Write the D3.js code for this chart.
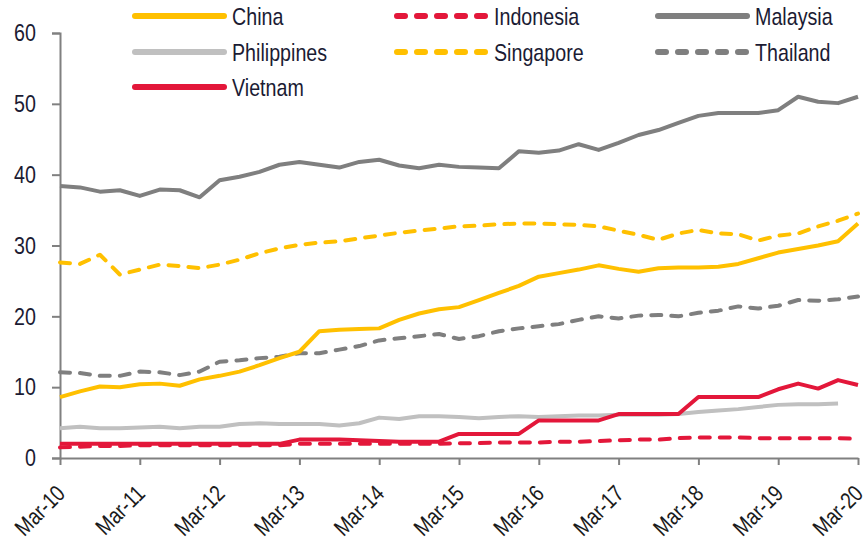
<!DOCTYPE html>
<html>
<head>
<meta charset="utf-8">
<script src="https://cdn.jsdelivr.net/npm/d3@7"></script>
<style>
  body { margin: 0; background: #fff; }
  text { font-family: "Liberation Sans", Arial, sans-serif; }
</style>
</head>
<body>
<div id="chart"></div>
<script>
/*---------- DATA ----------*/
// Quarterly values, Mar-10 .. Mar-20
let xTickLabels = ["Mar-10", "Mar-11", "Mar-12", "Mar-13", "Mar-14", "Mar-15",
  "Mar-16", "Mar-17", "Mar-18", "Mar-19", "Mar-20"];
let yTicks = [0, 10, 20, 30, 40, 50, 60];

let china = [8.6, 9.4, 10.1, 10.0, 10.4, 10.5, 10.2, 11.1, 11.6, 12.2, 13.1, 14.1,
  15.0, 17.9, 18.1, 18.2, 18.3, 19.5, 20.4, 21.0, 21.3, 22.3, 23.3, 24.3, 25.6,
  26.1, 26.6, 27.2, 26.7, 26.3, 26.8, 26.9, 26.9, 27.0, 27.4, 28.2, 29.0, 29.5,
  30.0, 30.6, 33.1];
let indonesia = [1.5, 1.6, 1.7, 1.7, 1.8, 1.8, 1.8, 1.8, 1.8, 1.8, 1.8, 1.8,
  2.0, 2.0, 2.0, 2.0, 2.0, 2.0, 2.0, 2.0, 2.1, 2.1, 2.2, 2.2, 2.2, 2.3, 2.3,
  2.4, 2.5, 2.6, 2.6, 2.8, 2.9, 2.9, 2.9, 2.8, 2.8, 2.8, 2.8, 2.8, 2.7];
let malaysia = [38.4, 38.2, 37.6, 37.8, 37.0, 37.9, 37.8, 36.8, 39.2, 39.7, 40.4,
  41.4, 41.8, 41.4, 41.0, 41.8, 42.1, 41.3, 40.9, 41.4, 41.1, 41.0, 40.9, 43.3,
  43.1, 43.4, 44.3, 43.5, 44.5, 45.6, 46.3, 47.3, 48.3, 48.7, 48.7, 48.7, 49.1,
  51.0, 50.3, 50.1, 51.0];
let philippines = [4.2, 4.4, 4.2, 4.2, 4.3, 4.4, 4.2, 4.4, 4.4, 4.8, 4.9, 4.8,
  4.8, 4.8, 4.6, 4.9, 5.7, 5.5, 5.9, 5.9, 5.8, 5.6, 5.8, 5.9, 5.8, 5.9, 6.0,
  6.0, 6.1, 6.1, 6.1, 6.2, 6.5, 6.7, 6.9, 7.2, 7.5, 7.6, 7.6, 7.7];
let singapore = [27.6, 27.4, 28.7, 25.9, 26.6, 27.3, 27.1, 26.8, 27.3, 28.0, 28.9,
  29.6, 30.1, 30.4, 30.6, 31.0, 31.4, 31.8, 32.1, 32.4, 32.7, 32.8, 33.0, 33.1,
  33.1, 33.0, 32.9, 32.7, 32.1, 31.5, 30.8, 31.7, 32.2, 31.7, 31.6, 30.7, 31.4,
  31.7, 32.7, 33.5, 34.5];
let thailand = [12.1, 12.0, 11.6, 11.6, 12.2, 12.1, 11.7, 12.2, 13.6, 13.8, 14.1,
  14.3, 14.8, 14.8, 15.3, 15.8, 16.6, 16.9, 17.2, 17.5, 16.8, 17.2, 17.9, 18.3,
  18.6, 18.9, 19.5, 20.0, 19.7, 20.1, 20.2, 20.0, 20.5, 20.8, 21.4, 21.1, 21.5,
  22.3, 22.2, 22.4, 22.8];
let vietnam = [2.0, 2.0, 2.0, 2.0, 2.0, 2.0, 2.0, 2.0, 2.0, 2.0, 2.0, 2.0,
  2.6, 2.6, 2.6, 2.5, 2.4, 2.3, 2.3, 2.3, 3.4, 3.4, 3.4, 3.4, 5.3, 5.3, 5.3,
  5.3, 6.2, 6.2, 6.2, 6.2, 8.6, 8.6, 8.6, 8.6, 9.7, 10.5, 9.8, 11.0, 10.3];

/*---------- SETUP ----------*/
let width = 868;
let height = 544;

let yellow = "#ffc000";
let red = "#e3173a";
let darkGrey = "#7f7f7f";
let lightGrey = "#c0c0c0";
let dashed = "10,10";
let narrow = 0.82; // squeeze text like Arial Narrow

// Legend order (row by row) and drawing order for the lines
let series = [
  { name: "China", values: china, color: yellow, dash: null },
  { name: "Indonesia", values: indonesia, color: red, dash: dashed },
  { name: "Malaysia", values: malaysia, color: darkGrey, dash: null },
  { name: "Philippines", values: philippines, color: lightGrey, dash: null },
  { name: "Singapore", values: singapore, color: yellow, dash: dashed },
  { name: "Thailand", values: thailand, color: darkGrey, dash: dashed },
  { name: "Vietnam", values: vietnam, color: red, dash: null },
];
let drawOrder = ["Philippines", "Indonesia", "Thailand", "Singapore", "Malaysia", "China", "Vietnam"];

let svg = d3
  .select("#chart")
  .append("svg")
  .attr("width", width)
  .attr("height", height);

let x = d3.scaleLinear().domain([0, 40]).range([60, 858]);
let y = d3.scaleLinear().domain([0, 60]).range([458, 33]);

/*---------- AXES ----------*/
let axisColor = "#808080";

// Y axis
let yAxis = svg
  .append("g")
  .attr("transform", `translate(${x(0)},0)`)
  .call(d3.axisLeft(y).tickValues(yTicks).tickSize(8).tickPadding(0));
yAxis.select(".domain").attr("stroke", axisColor).attr("stroke-width", 2);
yAxis.selectAll(".tick line").attr("stroke", axisColor).attr("stroke-width", 2);
yAxis
  .selectAll(".tick text")
  .attr("x", 0)
  .attr("fill", "#1b1b33")
  .attr("font-size", "24px")
  .attr("transform", `translate(-24,0) scale(${narrow},1)`);

// X axis
let xAxis = svg
  .append("g")
  .attr("transform", `translate(0,${y(0)})`)
  .call(
    d3.axisBottom(x)
      .tickValues(d3.range(0, 41, 4))
      .tickFormat((d, i) => xTickLabels[i])
      .tickSize(7)
      .tickSizeOuter(0)
  );
xAxis.select(".domain").attr("stroke", axisColor).attr("stroke-width", 2);
xAxis.selectAll(".tick line").attr("stroke", axisColor).attr("stroke-width", 2);
xAxis
  .selectAll(".tick text")
  .attr("fill", "#1a1a1a")
  .attr("font-size", "23px")
  .attr("text-anchor", "end")
  .attr("dy", null)
  .attr("y", 0)
  .attr("transform", `translate(6,37) rotate(-45) scale(${narrow},1)`);
svg.selectAll(".tick text").attr("font-family", null);

/*---------- LINES ----------*/
let line = d3
  .line()
  .x((d, i) => x(i))
  .y((d) => y(d));

svg
  .append("g")
  .selectAll("path")
  .data(drawOrder.map((n) => series.find((s) => s.name === n)))
  .join("path")
  .attr("d", (d) => line(d.values))
  .attr("fill", "none")
  .attr("stroke", (d) => d.color)
  .attr("stroke-width", 4)
  .attr("stroke-linejoin", "round")
  .attr("stroke-linecap", (d) => (d.dash ? "round" : "butt"))
  .attr("stroke-dasharray", (d) => d.dash);

/*---------- LEGEND ----------*/
let legendCols = [133, 395, 656];
let legendRows = [16, 52, 87];
let legendLen = 91;

let legend = svg
  .append("g")
  .selectAll("g")
  .data(series)
  .join("g")
  .attr("transform", (d, i) => `translate(${legendCols[i % 3]},${legendRows[Math.floor(i / 3)]})`);

legend
  .append("line")
  .attr("x1", 2)
  .attr("x2", legendLen)
  .attr("stroke", (d) => d.color)
  .attr("stroke-width", 6)
  .attr("stroke-linecap", "round")
  .attr("stroke-dasharray", (d) => (d.dash ? "8,12" : null));

legend
  .append("text")
  .attr("dy", "0.36em")
  .attr("transform", `translate(${legendLen + 8},0) scale(${narrow},1)`)
  .attr("fill", "#1b1b33")
  .attr("font-size", "24px")
  .text((d) => d.name);
</script>
</body>
</html>
